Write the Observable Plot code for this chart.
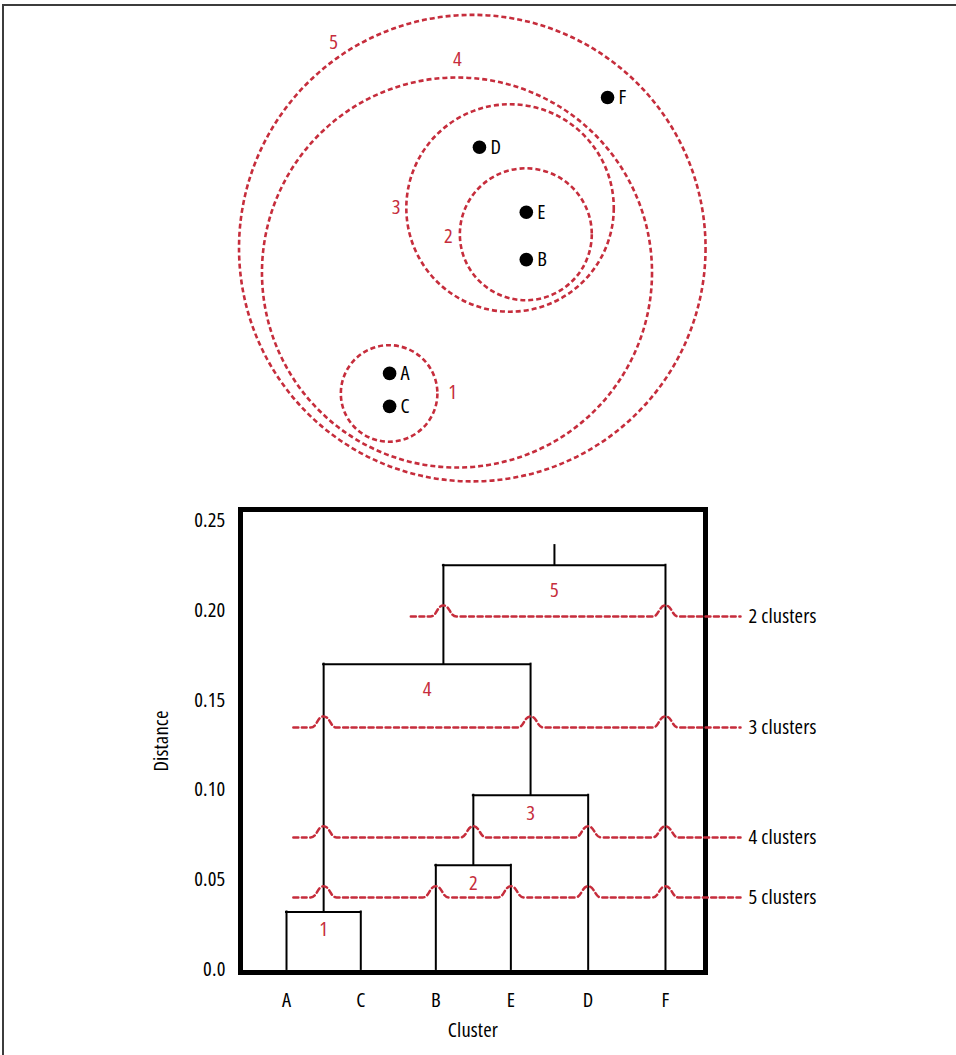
<!DOCTYPE html>
<html>
<head>
<meta charset="utf-8">
<script src="https://cdn.jsdelivr.net/npm/d3@7"></script>
<script src="https://cdn.jsdelivr.net/npm/@observablehq/plot@0.6"></script>
<style>
html, body { margin: 0; padding: 0; background: #fff; }
#wrap { position: relative; width: 956px; height: 1055px; overflow: hidden; background: #fff; }
#edge { position: absolute; left: 2px; top: 4px; right: 0; bottom: 0; border-top: 2px solid #3c3c3c; border-left: 2px solid #3c3c3c; pointer-events: none; }
#top, #bottom { position: absolute; left: 0; }
#top { top: 0; }
#bottom { top: 490px; }
svg { display: block; }
#wrap svg { font-family: 'Open Sans', sans-serif !important; font-stretch: 75% !important; letter-spacing: 0.15px; }
</style>
</head>
<body>
<div id="wrap"><div id="top"></div><div id="bottom"></div><div id="edge"></div></div>
<script>
// ---------- top diagram: points and nested clusters ----------
const pointNames = ["A", "B", "C", "D", "E", "F"];
const pointX = [8.14, 11.0, 8.14, 10.02, 11.0, 12.70];
const pointY = [2.45, 4.83, 1.76, 7.18, 5.82, 8.22];

const circleIds = ["1", "2", "3", "4", "5"];
const circleX = [8.13, 10.99, 10.66, 9.55, 9.87];
const circleY = [2.03, 5.36, 5.91, 4.56, 5.07];
const circleR = [1.01, 1.38, 2.17, 4.08, 4.88];
const circleLabelX = [9.46, 9.37, 8.28, 9.56, 6.97];
const circleLabelY = [2.05, 5.31, 5.92, 9.02, 9.37];

// ---------- dendrogram ----------
const leaves = ["A", "C", "B", "E", "D", "F"];
const leafPos = [1, 1.98, 2.97, 3.96, 4.98, 6];
const mergeIds = ["1", "2", "3", "4", "5"];
const mergeLeft = ["A", "B", "2", "1", "4"];
const mergeRight = ["C", "E", "D", "3", "F"];
const mergeHeight = [0.032, 0.058, 0.097, 0.170, 0.225];
const mergeStem = [1.49, 3.465, 4.22, 3.07, 4.535];
const mergeLabelY = [0.0223, 0.0479, 0.0869, 0.1559, 0.211];
const rootTop = 0.236;

const cutLabels = ["2 clusters", "3 clusters", "4 clusters", "5 clusters"];
const cutHeight = [0.1965, 0.1347, 0.0735, 0.0401];
const cutStart = [2.64, 1.09, 1.09, 1.09];
const cutEnd = 6.99;
const cutLabelX = 7.095;

const yTicks = [0, 0.05, 0.10, 0.15, 0.20, 0.25];
const yTickLabels = ["0.0", "0.05", "0.10", "0.15", "0.20", "0.25"];

const RED = "#c62d3c";
const style = { fontFamily: "'Open Sans', sans-serif", fontSize: "20.5px", fontStretch: "75%", color: "black", background: "white", overflow: "visible" };

// ---- top chart ----
const topChart = Plot.plot({
  width: 956, height: 490, margin: 0,
  x: { domain: [0, 20], axis: null },
  y: { domain: [0, 10.25], axis: null },
  r: { type: "linear", domain: [0, 1], range: [0, 47.8] },
  style,
  marks: [
    Plot.dot(circleIds, {
      x: (d, i) => circleX[i], y: (d, i) => circleY[i], r: (d, i) => circleR[i],
      fill: "none", stroke: RED, strokeWidth: 2.6, strokeDasharray: "5,3"
    }),
    Plot.text(circleIds, {
      x: (d, i) => circleLabelX[i], y: (d, i) => circleLabelY[i], text: d => d, fill: RED
    }),
    Plot.dot(pointNames, {
      x: (d, i) => pointX[i], y: (d, i) => pointY[i], r: 6.8, fill: "black", stroke: "none"
    }),
    Plot.text(pointNames, {
      x: (d, i) => pointX[i], y: (d, i) => pointY[i], text: d => d,
      dx: 11, textAnchor: "start", fill: "black"
    })
  ]
});
document.getElementById("top").appendChild(topChart);

// ---- dendrogram geometry from the merge table ----
const pos = id => leaves.includes(id) ? leafPos[leaves.indexOf(id)] : mergeStem[mergeIds.indexOf(id)];
const hgt = id => leaves.includes(id) ? 0 : mergeHeight[mergeIds.indexOf(id)];

const horizontals = mergeIds.map((id, i) => ({ x1: pos(mergeLeft[i]), x2: pos(mergeRight[i]), y: mergeHeight[i] }));
const verticals = [];
mergeIds.forEach((id, i) => {
  verticals.push({ x: pos(mergeLeft[i]), y1: hgt(mergeLeft[i]), y2: mergeHeight[i] });
  verticals.push({ x: pos(mergeRight[i]), y1: hgt(mergeRight[i]), y2: mergeHeight[i] });
});
verticals.push({ x: mergeStem[mergeStem.length - 1], y1: mergeHeight[mergeHeight.length - 1], y2: rootTop });

const mergeLabels = mergeIds.map((id, i) => ({ id, x: (pos(mergeLeft[i]) + pos(mergeRight[i])) / 2, y: mergeLabelY[i] }));

// cut lines with hops over each vertical they cross
const hopW = 0.1715, hopH = 0.0062;
const cutPoints = [];
cutLabels.forEach((lab, k) => {
  const h = cutHeight[k];
  const xs = verticals.filter(v => v.y1 < h && v.y2 > h && v.x > cutStart[k]).map(v => v.x).sort((a, b) => a - b);
  cutPoints.push({ cut: lab, x: cutStart[k], y: h });
  xs.forEach(x => {
    cutPoints.push({ cut: lab, x: x - hopW, y: h });
    cutPoints.push({ cut: lab, x: x, y: h + hopH });
    cutPoints.push({ cut: lab, x: x + hopW, y: h });
  });
  cutPoints.push({ cut: lab, x: cutEnd, y: h });
});

const bottomChart = Plot.plot({
  width: 956, height: 565,
  marginLeft: 240, marginRight: 251, marginTop: 19, marginBottom: 83,
  x: { type: "linear", domain: [0.393, 6.528], axis: null },
  y: { type: "linear", domain: [-0.0017, 0.2561], axis: null },
  style,
  marks: [
    Plot.axisY(yTicks, { tickSize: 0, tickPadding: 15, label: null, fill: "black",
      tickFormat: d => yTickLabels[yTicks.indexOf(d)] }),
    Plot.axisX(leafPos, { tickSize: 0, tickPadding: 20, label: null, fill: "black",
      tickFormat: d => leaves[leafPos.indexOf(d)] }),
    Plot.ruleY(horizontals, { x1: "x1", x2: "x2", y: "y", stroke: "black", strokeWidth: 2, strokeLinecap: "square" }),
    Plot.ruleX(verticals, { x: "x", y1: "y1", y2: "y2", stroke: "black", strokeWidth: 2, strokeLinecap: "square" }),
    Plot.text(mergeLabels, { x: "x", y: "y", text: "id", fill: RED }),
    Plot.frame({ stroke: "black", strokeWidth: 5 }),
    Plot.line(cutPoints, { x: "x", y: "y", z: "cut", curve: "bump-x", stroke: RED, strokeWidth: 2.5, strokeDasharray: "5,3.5" }),
    Plot.text(cutLabels, { x: () => cutLabelX, y: (d, i) => cutHeight[i], text: d => d, textAnchor: "start", fill: "black" }),
    Plot.text(["Distance"], { frameAnchor: "left", dx: -79, rotate: -90, textAnchor: "middle", lineAnchor: "middle", fill: "black" }),
    Plot.text(["Cluster"], { frameAnchor: "bottom", dy: 58, textAnchor: "middle", lineAnchor: "middle", fill: "black" })
  ]
});
document.getElementById("bottom").appendChild(bottomChart);
</script>
</body>
</html>
